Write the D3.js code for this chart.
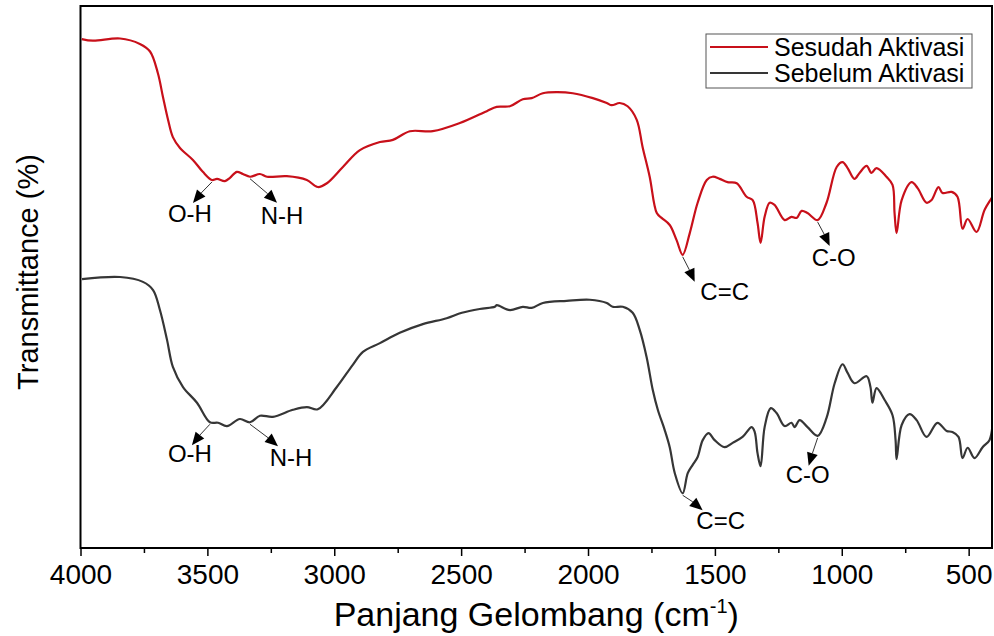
<!DOCTYPE html>
<html>
<head>
<meta charset="utf-8">
<script src="https://cdn.jsdelivr.net/npm/d3@7"></script>
<style>
  html, body { margin: 0; padding: 0; background: #fff; }
  svg { display: block; font-family: "Liberation Sans", Arial, sans-serif; }
</style>
</head>
<body>
<svg id="chart" width="994" height="636"></svg>
<script>
// ---------------- DATA ----------------
const seriesNames = ["Sesudah Aktivasi", "Sebelum Aktivasi"];

// Sesudah Aktivasi (after activation) : wavenumber (cm-1), transmittance (arb. %)
const sesudahWavenumber = [3995,3951,3844,3766,3726,3695,3675,3655,3636,3608,3557,3518,3482,3462,3431,3411,3384,3360,3332,3293,3265,3187,3108,3065,3029,2966,2899,2820,2769,2702,2612,2505,2399,2360,2308,2257,2222,2178,2123,2060,1981,1926,1907,1875,1844,1808,1785,1757,1729,1710,1678,1651,1627,1599,1568,1532,1509,1481,1450,1414,1375,1351,1332,1320,1304,1284,1265,1225,1198,1178,1158,1135,1095,1060,1020,997,977,950,930,902,883,863,824,800,792,784,764,725,701,666,646,619,603,567,544,524,504,469,437,406];
const sesudahTransmittance = [93.9,93.6,94.0,93.0,91.6,87.6,83.2,79.0,75.8,73.8,71.6,69.4,67.9,68.1,67.7,68.3,69.4,69.0,68.5,69.0,68.5,68.6,67.9,66.6,67.3,70.3,73.4,74.9,75.3,76.9,76.9,78.4,80.6,81.4,81.5,82.8,83.0,83.9,84.1,83.9,83.0,82.1,81.7,82.1,81.5,79.0,74.0,68.5,61.8,60.9,59.6,56.8,54.1,58.1,63.7,67.9,68.5,68.1,67.5,67.3,64.8,64.2,60.0,56.3,61.1,63.7,63.3,60.5,61.1,60.9,62.2,61.8,60.5,63.7,70.3,71.2,70.1,68.1,69.2,70.5,69.2,70.1,68.5,67.0,61.8,58.1,64.2,67.5,66.4,63.7,64.2,66.6,65.5,65.7,64.8,58.9,60.7,58.3,62.4,64.8];

// Sebelum Aktivasi (before activation)
const sebelumWavenumber = [3994,3844,3754,3714,3687,3659,3636,3596,3541,3490,3458,3423,3372,3332,3293,3242,3163,3108,3065,2990,2927,2887,2820,2742,2651,2557,2497,2427,2367,2360,2308,2257,2222,2178,2084,1993,1926,1903,1863,1824,1796,1769,1745,1725,1698,1678,1658,1627,1607,1588,1568,1548,1525,1501,1462,1430,1391,1355,1343,1332,1320,1304,1280,1257,1225,1198,1186,1166,1135,1095,1060,1028,997,977,950,902,887,879,863,831,800,788,784,764,733,705,666,623,587,564,540,524,504,477,445,418,406];
const sebelumTransmittance = [49.6,50.0,49.1,47.6,43.9,38.4,33.4,29.7,26.8,23.2,23.1,22.5,23.8,23.2,24.4,24.2,25.5,26.0,25.6,29.7,33.8,36.2,37.8,39.7,41.3,42.4,43.4,44.1,44.5,44.8,43.9,44.5,44.3,45.2,45.6,45.8,45.2,44.5,44.5,43.4,40.2,35.2,29.2,25.5,21.8,18.6,13.8,10.1,13.8,15.3,16.8,19.9,21.2,19.9,18.6,19.4,20.5,22.3,21.4,17.5,15.1,22.3,25.8,24.9,22.5,23.1,22.3,23.6,22.3,20.7,24.0,30.4,33.9,32.3,30.4,31.7,29.7,26.8,29.5,27.3,24.5,19.9,16.4,22.7,24.7,23.6,20.5,23.1,21.6,21.4,20.5,16.6,18.5,16.6,18.6,19.9,22.7];

const xTickValues = [4000,3500,3000,2500,2000,1500,1000,500];
const xMinorTickValues = [3750,3250,2750,2250,1750,1250,750];
const xDomain = [4000, 408];
const yDomain = [0, 100];

const xTitle = "Panjang Gelombang (cm";
const xTitleSup = "-1";
const yTitle = "Transmittance (%)";

// band annotations: label, series index, wavenumber of the band
const annotationLabels = ["O-H","N-H","C=C","C-O","O-H","N-H","C=C","C-O"];
const annotationSeries = [0,0,0,0,1,1,1,1];
const annotationWavenumber = [3482,3332,1627,1095,3490,3332,1627,1095];

// ---------------- LAYOUT / STYLE ----------------
const colors = ["#c8101a", "#363636"];
const plot = { left: 80.5, right: 992, top: 6, bottom: 548 };
// arrow tip offsets and label offsets (pixels) for each annotation
const arrowDx = [-19, 27, 12, 12, -18, 28, 20, -9];
const arrowDy = [23, 26, 27, 26, 23, 24, 17, 30];
const labelDx = [-3, 5, 30, 4, -2, 13, 18, -1];
const labelDy = [19, 21, 18, 20, 17, 20, 19, 17];

const svg = d3.select("#chart");
const x = d3.scaleLinear().domain(xDomain).range([plot.left, plot.right]);
const y = d3.scaleLinear().domain(yDomain).range([plot.bottom, plot.top]);

const series = [
  sesudahWavenumber.map((w, i) => ({ w, t: sesudahTransmittance[i] })),
  sebelumWavenumber.map((w, i) => ({ w, t: sebelumTransmittance[i] }))
];

svg.append("defs").append("clipPath").attr("id", "clip")
  .append("rect").attr("x", plot.left).attr("y", plot.top)
  .attr("width", plot.right - plot.left).attr("height", plot.bottom - plot.top);

const line = d3.line().x(d => x(d.w)).y(d => y(d.t)).curve(d3.curveCatmullRom.alpha(0.5));

const g = svg.append("g").attr("clip-path", "url(#clip)");
series.forEach((s, i) => {
  g.append("path").datum(s)
    .attr("fill", "none").attr("stroke", colors[i])
    .attr("stroke-width", 2.2).attr("stroke-linejoin", "round")
    .attr("d", line);
});

// axes
const xAxis = d3.axisBottom(x).tickValues(xTickValues).tickSize(8).tickPadding(5).tickFormat(d3.format("d"));
const axG = svg.append("g").attr("transform", `translate(0,${plot.bottom})`).call(xAxis);
axG.select(".domain").remove();
axG.selectAll(".tick line").attr("stroke", "#000").attr("stroke-width", 1.5);
axG.selectAll(".tick text").attr("font-size", 28).attr("fill", "#000")
  .attr("font-family", "Liberation Sans, Arial, sans-serif").attr("dy", "0.82em");
const minorAxis = d3.axisBottom(x).tickValues(xMinorTickValues).tickSize(5).tickFormat("");
const mg = svg.append("g").attr("transform", `translate(0,${plot.bottom})`).call(minorAxis);
mg.select(".domain").remove();
mg.selectAll(".tick line").attr("stroke", "#000").attr("stroke-width", 1.5);

// frame
svg.append("rect").attr("x", plot.left).attr("y", plot.top)
  .attr("width", plot.right - plot.left).attr("height", plot.bottom - plot.top)
  .attr("fill", "none").attr("stroke", "#000").attr("stroke-width", 2);

// axis titles
const xt = svg.append("text").attr("x", (plot.left + plot.right) / 2).attr("y", 626)
  .attr("text-anchor", "middle").attr("font-size", 34).attr("fill", "#000");
xt.append("tspan").text(xTitle);
xt.append("tspan").attr("font-size", 20).attr("dy", -13).text(xTitleSup);
xt.append("tspan").attr("dy", 13).text(")");

svg.append("text").attr("transform", `translate(38,${(plot.top + plot.bottom) / 2 - 5}) rotate(-90)`)
  .attr("text-anchor", "middle").attr("font-size", 29).attr("fill", "#000").text(yTitle);

// legend
const lg = svg.append("g");
lg.append("rect").attr("x", 706).attr("y", 34).attr("width", 266).attr("height", 54)
  .attr("fill", "#fff").attr("stroke", "#555").attr("stroke-width", 1);
seriesNames.forEach((n, i) => {
  const yy = 47 + i * 26;
  lg.append("line").attr("x1", 710).attr("x2", 768).attr("y1", yy).attr("y2", yy)
    .attr("stroke", colors[i]).attr("stroke-width", 2);
  lg.append("text").attr("x", 774).attr("y", yy + 9).attr("font-size", 25).attr("fill", "#000").text(n);
});

// annotations
const ag = svg.append("g");
annotationLabels.forEach((lab, i) => {
  const s = series[annotationSeries[i]];
  const pt = s.find(d => d.w === annotationWavenumber[i]);
  const x0 = x(pt.w), y0 = y(pt.t);
  const x1 = x0 + arrowDx[i], y1 = y0 + arrowDy[i];
  const ang = Math.atan2(y1 - y0, x1 - x0);
  const hl = 13, hw = 5.5;
  const bx = x1 - hl * Math.cos(ang), by = y1 - hl * Math.sin(ang);
  ag.append("line").attr("x1", x0).attr("y1", y0 + 2).attr("x2", bx).attr("y2", by)
    .attr("stroke", "#333").attr("stroke-width", 1);
  const px = -Math.sin(ang), py = Math.cos(ang);
  ag.append("path").attr("d",
    `M${x1},${y1}L${bx + px * hw},${by + py * hw}L${bx - px * hw},${by - py * hw}Z`)
    .attr("fill", "#000");
  ag.append("text").attr("x", x1 + labelDx[i]).attr("y", y1 + labelDy[i])
    .attr("text-anchor", "middle").attr("font-size", 24).attr("fill", "#000").text(lab);
});
</script>
</body>
</html>
